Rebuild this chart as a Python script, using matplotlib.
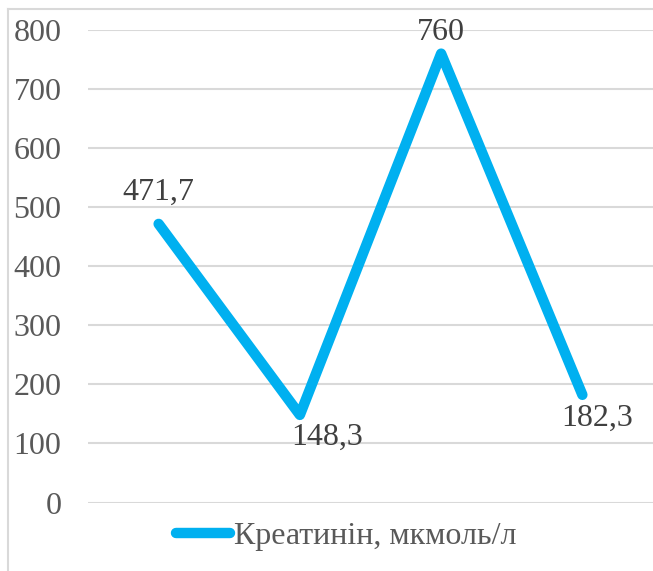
import matplotlib.pyplot as plt
from matplotlib.lines import Line2D

plt.rcParams['font.family'] = ['Liberation Serif', 'DejaVu Serif']

# data
categories = ['1', '2', '3', '4']
values = [471.7, 148.3, 760, 182.3]
labels = ['471,7', '148,3', '760', '182,3']
series_name = 'Креатинін, мкмоль/л'
yticks = [0, 100, 200, 300, 400, 500, 600, 700, 800]

W, H = 653, 571
fig = plt.figure(figsize=(W / 100, H / 100), dpi=100)
ax = fig.add_axes([88 / W, (H - 502.5) / H, (W - 88) / W, (502.5 - 30) / H])

x = list(range(len(categories)))
line, = ax.plot(x, values, color='#00B0F0', linewidth=7.5,
                solid_capstyle='round', solid_joinstyle='round', zorder=3)

ax.set_xlim(-0.5, len(categories) - 0.5)
ax.set_ylim(0, 800)
ax.set_yticks(yticks)
ax.set_yticklabels([str(t) for t in yticks], fontsize=23, color='#595959')
ax.set_xticks([])
ax.tick_params(axis='y', length=0, pad=19)
ax.grid(axis='y', color='#D9D9D9', linewidth=1.5)
for s in ax.spines.values():
    s.set_visible(False)
ax.set_axisbelow(True)

# data labels (offsets in pixels)
offsets = [(0, 32), (27, -22), (0, 21), (15, -23)]
for xi, v, lab, off in zip(x, values, labels, offsets):
    ax.annotate(lab, (xi, v), xytext=off, textcoords='offset pixels',
                ha='center', va='center', fontsize=23, color='#404040')

# legend
leg = fig.legend([line], [series_name], loc='center',
                 bbox_to_anchor=(346 / W, 1 - 536 / H), frameon=False,
                 fontsize=23, handlelength=1.7, handletextpad=0.1,
                 labelcolor='#595959')

# chart border
fig.add_artist(Line2D([8 / W, 8 / W], [0, 1 - 9 / H], color='#D9D9D9', linewidth=1.5))
fig.add_artist(Line2D([8 / W, 1], [1 - 9 / H, 1 - 9 / H], color='#D9D9D9', linewidth=1.5))

fig.savefig('out.png', dpi=100)
